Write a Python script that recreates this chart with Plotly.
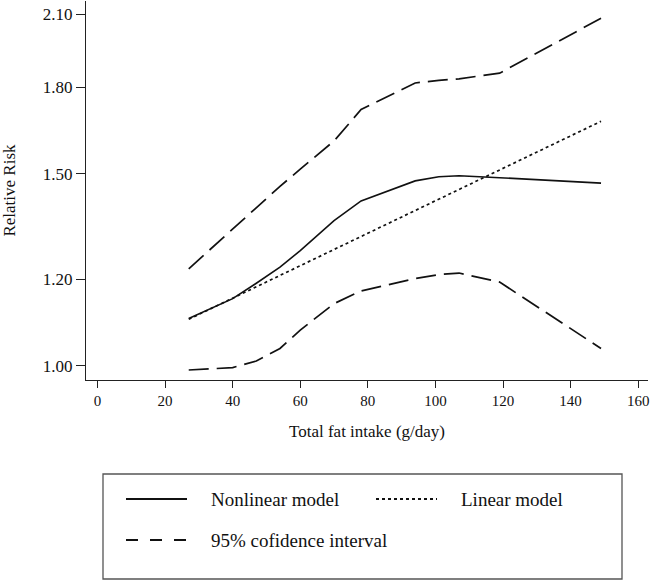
import plotly.graph_objects as go
import math

# ---- data ----
fat_intake = [27, 40, 47, 54, 60, 70, 78, 94, 101, 107, 119, 149]
rr_nonlinear = [1.105, 1.152, 1.190, 1.231, 1.275, 1.358, 1.416, 1.477, 1.490, 1.493, 1.487, 1.470]
ci_lower = [0.991, 0.996, 1.010, 1.037, 1.078, 1.140, 1.171, 1.202, 1.212, 1.216, 1.193, 1.037]
ci_upper = [1.227, 1.335, 1.395, 1.460, 1.514, 1.607, 1.717, 1.816, 1.826, 1.832, 1.854, 2.082]
linear_x = [27, 149]
rr_linear = [1.103, 1.675]

x_ticks = [0, 20, 40, 60, 80, 100, 120, 140, 160]
y_ticks = [1.00, 1.20, 1.50, 1.80, 2.10]
y_ticktext = ["1.00", "1.20", "1.50", "1.80", "2.10"]

legend_labels = ["Nonlinear model", "Linear model", "95% cofidence interval"]

FONT = "Liberation Serif, Times New Roman, serif"
W, H = 653, 582
ML, MR, MT, MB = 86, 5, 1, 202
PW, PH = W - ML - MR, H - MT - MB

fig = go.Figure()
fig.add_trace(go.Scatter(x=fat_intake, y=ci_upper, mode="lines",
                         line=dict(color="#111", width=1.7, dash="20px,8px"),
                         name=legend_labels[2], showlegend=False))
fig.add_trace(go.Scatter(x=fat_intake, y=ci_lower, mode="lines",
                         line=dict(color="#111", width=1.7, dash="20px,8px"),
                         name=legend_labels[2], showlegend=False))
fig.add_trace(go.Scatter(x=linear_x, y=rr_linear, mode="lines",
                         line=dict(color="#111", width=1.7, dash="3px,3px"),
                         name=legend_labels[1], showlegend=False))
fig.add_trace(go.Scatter(x=fat_intake, y=rr_nonlinear, mode="lines",
                         line=dict(color="#111", width=1.6),
                         name=legend_labels[0], showlegend=False))

y_lo = math.log10(0.9703)
y_hi = math.log10(2.159)

fig.update_layout(
    width=W, height=H,
    margin=dict(l=ML, r=MR, t=MT, b=MB),
    paper_bgcolor="white", plot_bgcolor="white",
    font=dict(family=FONT, color="#111", size=16),
    xaxis=dict(range=[-3.4, 162.9], tickvals=x_ticks, ticks="outside", ticklen=7,
               tickcolor="#222", showline=True, linecolor="#222", linewidth=1.3,
               showgrid=False, zeroline=False, tickfont=dict(size=15), automargin=False,
               title=dict(text="Total fat intake (g/day)", font=dict(size=17), standoff=16)),
    yaxis=dict(type="log", range=[y_lo, y_hi], tickvals=y_ticks, ticktext=y_ticktext,
               ticks="outside", ticklen=9, tickcolor="#222", showline=True,
               linecolor="#222", linewidth=1.3, showgrid=False, zeroline=False,
               tickfont=dict(size=17), automargin=False,
               title=dict(text="Relative Risk", font=dict(size=17), standoff=22)),
)

# ---- manual legend box ----
def px_x(p):
    return (p - ML) / PW

def px_y(p):
    return (H - MB - p) / PH

fig.add_shape(type="rect", xref="paper", yref="paper",
              x0=px_x(103), x1=px_x(622), y0=px_y(579), y1=px_y(474),
              line=dict(color="#555", width=1.3), fillcolor="white")
rows = [(126, 187, 499, "solid", 0), (376, 437, 499, "3px,3px", 1), (126, 187, 540, "12px,12px", 2)]
for x0, x1, yy, dash, i in rows:
    fig.add_shape(type="line", xref="paper", yref="paper",
                  x0=px_x(x0), x1=px_x(x1), y0=px_y(yy), y1=px_y(yy),
                  line=dict(color="#111", width=2.2 if i == 2 else 1.8, dash=dash))
    fig.add_annotation(xref="paper", yref="paper", x=px_x(x1 + 22), y=px_y(yy),
                       text=legend_labels[i], showarrow=False, xanchor="left",
                       yanchor="middle", font=dict(size=19, family=FONT, color="#111"))

fig.write_html("out.html", config={"displayModeBar": False},
               post_script="document.body.style.margin='0';")
